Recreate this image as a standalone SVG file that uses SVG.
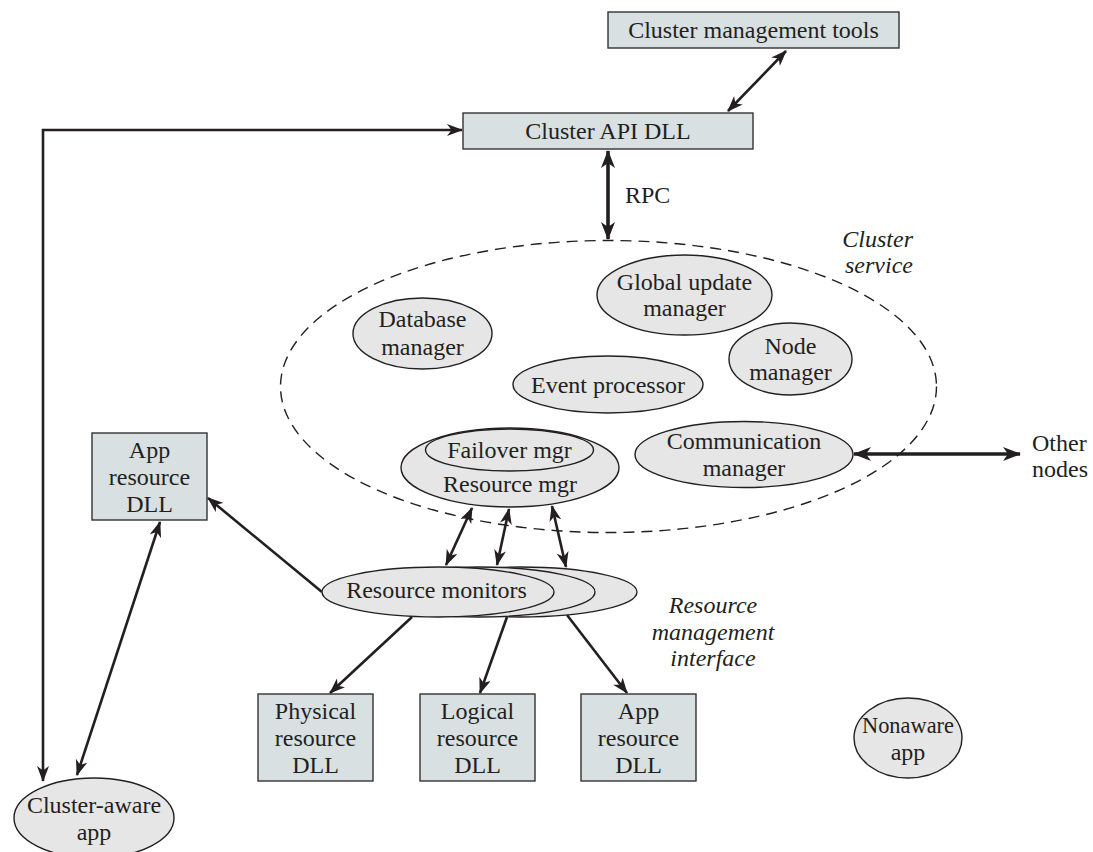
<svg xmlns="http://www.w3.org/2000/svg" width="1093" height="852" viewBox="0 0 1093 852">
<defs>
<style>
text{font-family:"Liberation Serif","Times New Roman",serif;font-size:24px;fill:#231f20;text-anchor:middle}
.it{font-style:italic}
.box{fill:#d8e0e2;stroke:#333;stroke-width:1.4}
.ell{fill:#e6e6e6;stroke:#231f20;stroke-width:1.4}
.dash{fill:none;stroke:#231f20;stroke-width:1.4;stroke-dasharray:11 7}
.c{fill:none;stroke:#231f20;stroke-width:2.6}
.ct{fill:none;stroke:#231f20;stroke-width:3.6}
</style>
<marker id="ah" viewBox="0 0 16 12" refX="15" refY="6" markerWidth="16" markerHeight="12" markerUnits="userSpaceOnUse" orient="auto-start-reverse">
<path d="M0,0 L16,6 L0,12 L4.5,6 Z" fill="#231f20"/>
</marker>
<marker id="ahb" viewBox="0 0 18 14" refX="17" refY="7" markerWidth="18" markerHeight="14" markerUnits="userSpaceOnUse" orient="auto-start-reverse">
<path d="M0,0 L18,7 L0,14 L5,7 Z" fill="#231f20"/>
</marker>
</defs>
<rect width="1093" height="852" fill="#fff"/>

<g id="cluster-service">
<ellipse class="dash" cx="608.5" cy="386.5" rx="328" ry="146"/>
<text class="it" x="913" y="247" style="text-anchor:end">Cluster</text>
<text class="it" x="913" y="273" style="text-anchor:end">service</text>
</g>

<g id="connectors">
<polyline class="c" points="43,781 43,130 462,130" marker-start="url(#ah)" marker-end="url(#ah)"/>
<line class="c" x1="786" y1="51" x2="728" y2="111" marker-start="url(#ah)" marker-end="url(#ah)"/>
<line class="ct" x1="608" y1="151" x2="608" y2="239" marker-start="url(#ahb)" marker-end="url(#ahb)"/>
<line class="ct" x1="854" y1="454" x2="1020" y2="454" marker-start="url(#ahb)" marker-end="url(#ahb)"/>
<line class="c" x1="160" y1="522" x2="77" y2="775" marker-start="url(#ah)" marker-end="url(#ah)"/>
<line class="c" x1="322" y1="592" x2="208" y2="498" marker-end="url(#ah)"/>
<line class="c" x1="472" y1="508" x2="446" y2="565" marker-start="url(#ah)" marker-end="url(#ah)"/>
<line class="c" x1="509" y1="509" x2="497" y2="565" marker-start="url(#ah)" marker-end="url(#ah)"/>
<line class="c" x1="552" y1="506" x2="566" y2="567" marker-start="url(#ah)" marker-end="url(#ah)"/>
<line class="c" x1="412" y1="617" x2="330" y2="693" marker-end="url(#ah)"/>
<line class="c" x1="507" y1="617" x2="480" y2="693" marker-end="url(#ah)"/>
<line class="c" x1="567" y1="615" x2="627" y2="693" marker-end="url(#ah)"/>
</g>

<g id="cluster-management-tools">
<rect class="box" x="608" y="12" width="291" height="36"/>
<text x="753.5" y="38">Cluster management tools</text>
</g>
<g id="cluster-api-dll">
<rect class="box" x="463" y="113" width="290" height="36"/>
<text x="608" y="139">Cluster API DLL</text>
</g>
<g id="rpc-label"><text x="625" y="203" style="text-anchor:start">RPC</text></g>

<g id="database-manager">
<ellipse class="ell" cx="422.5" cy="333.5" rx="69.5" ry="35.5"/>
<text x="422.5" y="327">Database</text>
<text x="422.5" y="355">manager</text>
</g>
<g id="global-update-manager">
<ellipse class="ell" cx="684.5" cy="295" rx="87.5" ry="40"/>
<text x="684.5" y="290">Global update</text>
<text x="684.5" y="316">manager</text>
</g>
<g id="node-manager">
<ellipse class="ell" cx="790.5" cy="359" rx="61.5" ry="36"/>
<text x="790.5" y="354">Node</text>
<text x="790.5" y="380">manager</text>
</g>
<g id="event-processor">
<ellipse class="ell" cx="608" cy="384.5" rx="95" ry="28.5"/>
<text x="608" y="393">Event processor</text>
</g>
<g id="resource-mgr">
<ellipse class="ell" cx="510" cy="467.5" rx="109" ry="39.5"/>
<ellipse class="ell" cx="509.5" cy="450" rx="84" ry="21"/>
<text x="509.5" y="458">Failover mgr</text>
<text x="510" y="492">Resource mgr</text>
</g>
<g id="communication-manager">
<ellipse class="ell" cx="744" cy="454.5" rx="109" ry="33"/>
<text x="744" y="449">Communication</text>
<text x="744" y="476">manager</text>
</g>
<g id="other-nodes">
<text x="1032" y="451" style="text-anchor:start">Other</text>
<text x="1032" y="477" style="text-anchor:start">nodes</text>
</g>

<g id="app-resource-dll-left">
<rect class="box" x="92" y="433" width="115" height="87"/>
<text x="149.5" y="458">App</text>
<text x="149.5" y="485">resource</text>
<text x="149.5" y="512">DLL</text>
</g>

<g id="resource-monitors">
<ellipse class="ell" cx="521" cy="592" rx="116" ry="25"/>
<ellipse class="ell" cx="479" cy="592" rx="116" ry="25"/>
<ellipse class="ell" cx="438" cy="592" rx="116" ry="25"/>
<text x="436.5" y="598">Resource monitors</text>
</g>
<g id="rmi-label">
<text class="it" x="713" y="613">Resource</text>
<text class="it" x="713" y="640">management</text>
<text class="it" x="713" y="666">interface</text>
</g>

<g id="physical-resource-dll">
<rect class="box" x="258" y="694" width="115" height="87"/>
<text x="315.5" y="719">Physical</text>
<text x="315.5" y="746">resource</text>
<text x="315.5" y="773">DLL</text>
</g>
<g id="logical-resource-dll">
<rect class="box" x="420" y="694" width="115" height="87"/>
<text x="477.5" y="719">Logical</text>
<text x="477.5" y="746">resource</text>
<text x="477.5" y="773">DLL</text>
</g>
<g id="app-resource-dll">
<rect class="box" x="581" y="694" width="115" height="87"/>
<text x="638.5" y="719">App</text>
<text x="638.5" y="746">resource</text>
<text x="638.5" y="773">DLL</text>
</g>

<g id="nonaware-app">
<ellipse class="ell" cx="908" cy="738" rx="54" ry="40"/>
<text x="908" y="733" textLength="92" lengthAdjust="spacingAndGlyphs">Nonaware</text>
<text x="908" y="760">app</text>
</g>
<g id="cluster-aware-app">
<ellipse class="ell" cx="94" cy="818" rx="80" ry="40"/>
<text x="94" y="813">Cluster-aware</text>
<text x="94" y="840">app</text>
</g>
</svg>
